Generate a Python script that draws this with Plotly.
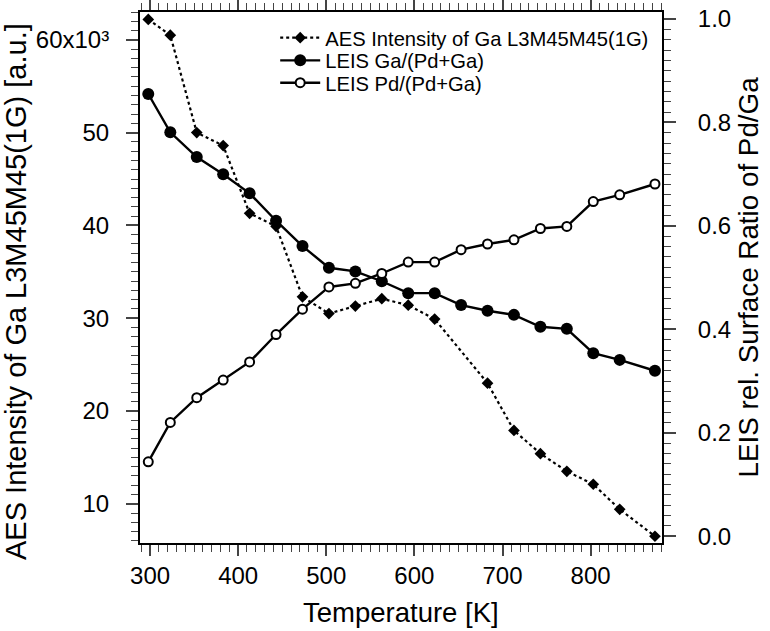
import plotly.graph_objects as go

# Data
T_aes = [298, 323, 353, 383, 413, 443, 473, 503, 533, 563, 593, 623, 683, 713, 743, 773, 803, 833, 873]
aes_intensity = [62200, 60500, 50000, 48600, 41300, 39900, 32300, 30500, 31300, 32100, 31400, 29900,
                 23000, 17900, 15400, 13500, 12100, 9400, 6500]

T_leis = [298, 323, 353, 383, 413, 443, 473, 503, 533, 563, 593, 623, 653, 683, 713, 743, 773, 803, 833, 873]
leis_ga = [0.855, 0.781, 0.733, 0.700, 0.663, 0.610, 0.561, 0.519, 0.512, 0.493, 0.470, 0.470,
           0.447, 0.436, 0.428, 0.405, 0.401, 0.354, 0.341, 0.320]
leis_pd = [0.144, 0.220, 0.268, 0.302, 0.337, 0.390, 0.439, 0.482, 0.489, 0.508, 0.530, 0.530,
           0.554, 0.565, 0.573, 0.595, 0.599, 0.647, 0.660, 0.681]

x_ticks = [300, 400, 500, 600, 700, 800]
y_ticks = [10000, 20000, 30000, 40000, 50000, 60000]
y_ticktext = ["10", "20", "30", "40", "50", "60x10³"]
y2_ticks = [0.0, 0.2, 0.4, 0.6, 0.8, 1.0]
y2_ticktext = ["0.0", "0.2", "0.4", "0.6", "0.8", "1.0"]

x_title = "Temperature [K]"
y_title = "AES Intensity of Ga L3M45M45(1G) [a.u.]"
y2_title = "LEIS rel. Surface Ratio of Pd/Ga"

FONT = "Arial, Liberation Sans, sans-serif"

fig = go.Figure()
fig.add_trace(go.Scatter(
    x=T_aes, y=aes_intensity, name="AES Intensity of Ga L3M45M45(1G)",
    mode="lines+markers", legend="legend",
    line=dict(color="black", width=2.2, dash="dot"),
    marker=dict(symbol="diamond", size=9, color="black"),
    yaxis="y"))
fig.add_trace(go.Scatter(
    x=T_leis, y=leis_ga, name="LEIS Ga/(Pd+Ga)",
    mode="lines+markers", legend="legend2",
    line=dict(color="black", width=2.4),
    marker=dict(symbol="circle", size=12, color="black"),
    yaxis="y2"))
fig.add_trace(go.Scatter(
    x=T_leis, y=leis_pd, name="LEIS Pd/(Pd+Ga)",
    mode="lines+markers", legend="legend3",
    line=dict(color="black", width=2.4),
    marker=dict(symbol="circle", size=9, color="white", line=dict(color="black", width=2)),
    yaxis="y2"))

leg_common = dict(x=0.259, xanchor="left", yanchor="top",
                  font=dict(size=20.2, family=FONT), bgcolor="rgba(0,0,0,0)",
                  itemwidth=40)

fig.update_layout(
    width=770, height=631,
    margin=dict(l=140, r=108, t=12, b=88, autoexpand=False),
    paper_bgcolor="white", plot_bgcolor="white",
    font=dict(family=FONT, color="black", size=24),
    showlegend=True,
    legend=dict(y=0.9887, **leg_common),
    legend2=dict(y=0.9459, **leg_common),
    legend3=dict(y=0.9038, **leg_common),
    xaxis=dict(
        range=[288.6, 881], tickvals=x_ticks, ticks="outside", ticklen=11, tickwidth=1.5,
        showline=True, linecolor="black", linewidth=2, mirror="ticks",
        showgrid=False, zeroline=False, automargin=False,
        tickfont=dict(size=24), ticklabelstandoff=-1,
        minor=dict(dtick=10, ticks="outside", ticklen=7, tickwidth=1.3, showgrid=False)),
    yaxis=dict(
        range=[5770, 63000], tickvals=y_ticks, ticktext=y_ticktext,
        ticks="outside", ticklen=12, tickwidth=1.5,
        showline=True, linecolor="black", linewidth=2, mirror=False,
        showgrid=False, zeroline=False, automargin=False,
        tickfont=dict(size=24), ticklabelstandoff=12,
        minor=dict(dtick=1000, ticks="outside", ticklen=7, tickwidth=1.3, showgrid=False)),
    yaxis2=dict(
        range=[-0.013, 1.0135], overlaying="y", side="right",
        tickvals=y2_ticks, ticktext=y2_ticktext,
        ticks="outside", ticklen=12, tickwidth=1.5,
        showline=True, linecolor="black", linewidth=2,
        showgrid=False, zeroline=False, automargin=False,
        tickfont=dict(size=24), ticklabelstandoff=17, ticklabeloverflow="allow",
        minor=dict(dtick=0.02, ticks="outside", ticklen=7, tickwidth=1.3, showgrid=False)),
    annotations=[
        dict(text=x_title, xref="paper", yref="paper", x=0.5, y=-0.1309,
             xanchor="center", yanchor="middle", showarrow=False,
             font=dict(size=27.5, family=FONT)),
        dict(text=y_title, xref="paper", yref="paper", x=-0.2362, y=0.474,
             xanchor="center", yanchor="middle", showarrow=False, textangle=-90,
             font=dict(size=29, family=FONT)),
        dict(text=y2_title, xref="paper", yref="paper", x=1.1648, y=0.5,
             xanchor="center", yanchor="middle", showarrow=False, textangle=-90,
             font=dict(size=27.8, family=FONT)),
    ],
)

fig.write_html("out.html", config={"displayModeBar": False},
               post_script="document.body.style.margin='0';")
